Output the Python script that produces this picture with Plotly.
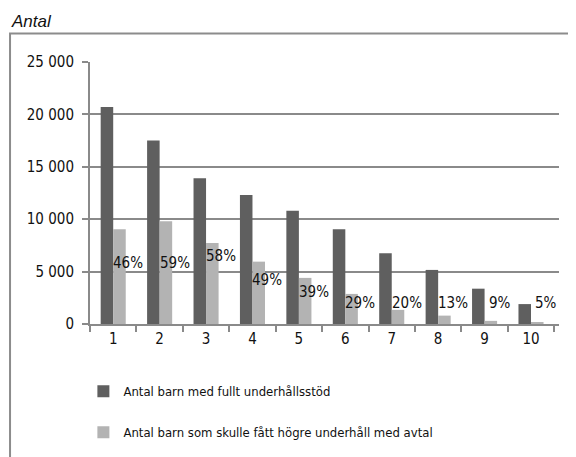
import plotly.graph_objects as go

# data
kategorier = ["1", "2", "3", "4", "5", "6", "7", "8", "9", "10"]
fullt_stod = [20700, 17500, 13900, 12300, 10800, 9050, 6750, 5160, 3370, 1900]
hogre_avtal = [9050, 9800, 7740, 5950, 4400, 2870, 1350, 800, 300, 100]
andel_text = ["46%", "59%", "58%", "49%", "39%", "29%", "20%", "13%", "9%", "5%"]
andel_hojd = [5830, 5800, 6500, 4200, 3100, 2000, 2000, 2000, 2000, 2000]

FONT = "Liberation Sans Narrow, DejaVu Sans Condensed, Arial Narrow, sans-serif"
GRID = "#8a8a8a"

fig = go.Figure()
fig.add_trace(go.Bar(
    x=kategorier, y=fullt_stod,
    name="Antal barn med fullt underhållsstöd",
    marker=dict(color="#5f5f5f", line=dict(width=0)),
    legendgroup="a",
))
fig.add_trace(go.Bar(
    x=kategorier, y=hogre_avtal,
    name="Antal barn som skulle fått högre underhåll med avtal",
    marker=dict(color="#b3b3b3", line=dict(width=0)),
    legendgroup="b",
))

# percentage labels (category axis: position by index)
for i, (t, h) in enumerate(zip(andel_text, andel_hojd)):
    fig.add_annotation(x=i, y=h, text=t, showarrow=False, xshift=15,
                       font=dict(family=FONT, size=15, color="#111111"))

# "Antal" heading
fig.add_annotation(xref="paper", yref="paper", x=-0.172, y=1.153,
                   xanchor="left", yanchor="middle", showarrow=False,
                   text="<i>Antal</i>",
                   font=dict(family="Liberation Sans, Arial, sans-serif", size=17, color="#111111"))

# chart border (open at right/bottom, as cropped in the original)
fig.add_shape(type="rect", xref="paper", yref="paper",
              x0=-0.1705, y0=1.109, x1=1.2, y1=-0.7,
              line=dict(color="#8c8c8c", width=2), layer="below")

# page body adds 8px margin, so the figure is 8px smaller than the window
fig.update_layout(
    width=568, height=449,
    margin=dict(l=82, r=17, t=54, b=133, autoexpand=False),
    paper_bgcolor="white", plot_bgcolor="white",
    barmode="group", bargap=0.46, bargroupgap=0,
    font=dict(family=FONT, size=15, color="#111111"),
    legend=dict(orientation="v", x=-0.0141, y=-0.1997, xanchor="left", yanchor="top",
                font=dict(family=FONT, size=13, color="#111111"),
                tracegroupgap=21, bgcolor="rgba(0,0,0,0)"),
    showlegend=True,
)
fig.update_xaxes(
    type="category", showgrid=False,
    showline=True, linecolor=GRID, linewidth=2,
    ticks="outside", tickson="boundaries", ticklen=6, tickcolor=GRID, tickwidth=2,
    tickfont=dict(family=FONT, size=15),
)
fig.update_yaxes(
    range=[0, 25000], tickvals=[0, 5000, 10000, 15000, 20000, 25000],
    ticktext=["0", "5 000", "10 000", "15 000", "20 000", "25 000"],
    showgrid=True, gridcolor=GRID, gridwidth=2,
    showline=True, linecolor=GRID, linewidth=2,
    ticks="outside", ticklen=6, tickcolor=GRID, tickwidth=2,
    ticklabelstandoff=5,
    zeroline=False, tickfont=dict(family=FONT, size=15),
)

fig.write_html("out.html")
